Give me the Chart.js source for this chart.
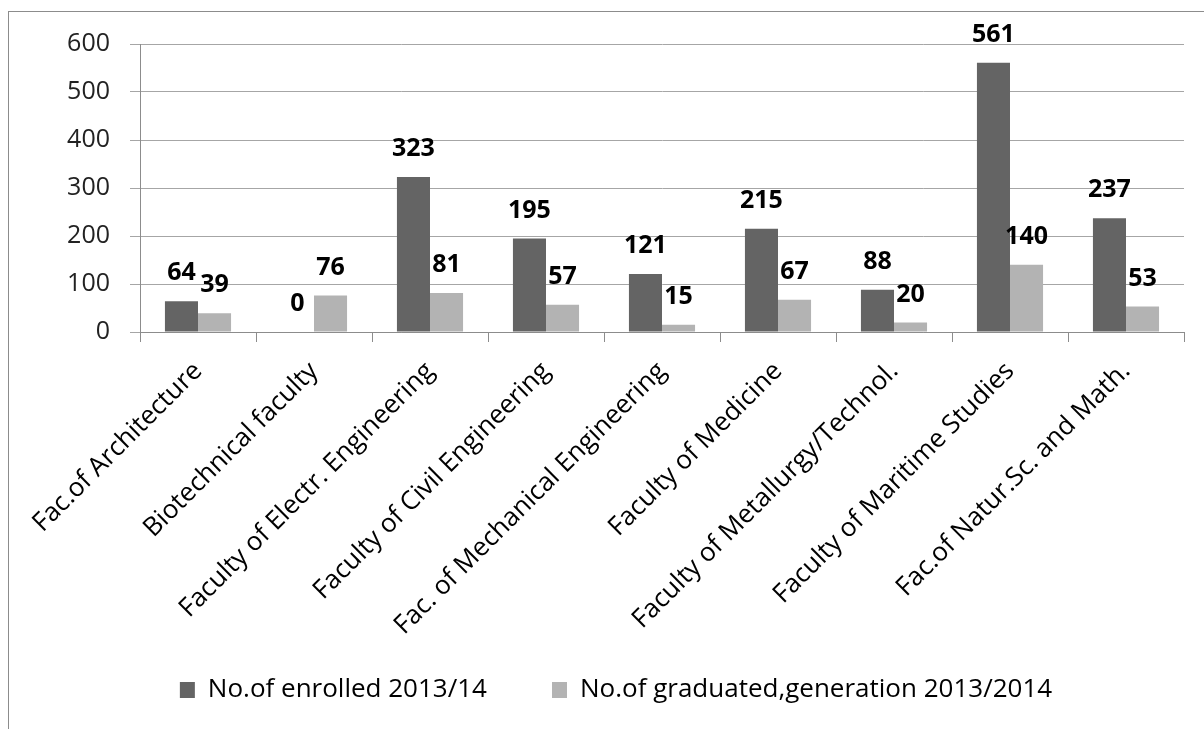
<!DOCTYPE html>
<html>
<head>
<meta charset="utf-8">
<script src="https://cdn.jsdelivr.net/npm/chart.js@4"></script>
<style>
  html, body { margin: 0; padding: 0; background: #fff; overflow: hidden; }
  #frame { position: absolute; left: 8px; top: 11px; width: 1400px; height: 900px; border: 1px solid #8c8c8c; }
  #wrap { position: absolute; left: 0; top: 0; width: 1204px; height: 729px; }
</style>
</head>
<body>
<div id="frame"></div>
<div id="wrap"><canvas id="myChart"></canvas></div>
<script>
var faculties = ['Fac.of Architecture', 'Biotechnical faculty', 'Faculty of Electr. Engineering',
    'Faculty of Civil Engineering', 'Fac. of Mechanical Engineering', 'Faculty of Medicine',
    'Faculty of Metallurgy/Technol.', 'Faculty of Maritime Studies', 'Fac.of Natur.Sc. and Math.'];
var enrolled = [64, 0, 323, 195, 121, 215, 88, 561, 237];
var graduated = [39, 76, 81, 57, 15, 67, 20, 140, 53];
var yTicks = [0, 100, 200, 300, 400, 500, 600];

var FONT = "'Open Sans', sans-serif";

// values written above each bar
var barLabels = {
    id: 'barLabels',
    afterDatasetsDraw: function (chart) {
        var ctx = chart.ctx;
        ctx.save();
        ctx.font = 'bold 25px ' + FONT;
        ctx.fillStyle = '#000';
        ctx.textAlign = 'center';
        ctx.textBaseline = 'middle';
        chart.data.datasets.forEach(function (ds, i) {
            chart.getDatasetMeta(i).data.forEach(function (bar, j) {
                ctx.fillText(ds.data[j], bar.x, bar.y - 28);
            });
        });
        ctx.restore();
    }
};

// nudge the legend (its padding also sets the gap between items)
var legendShift = {
    id: 'legendShift',
    afterLayout: function (chart) {
        var lg = chart.legend;
        lg.top -= 16;
        lg.bottom -= 16;
        lg.left += 24;
        lg.right += 24;
        chart.scales.x.bottom += 8;
    }
};

var ctx = document.getElementById('myChart').getContext('2d');
var myChart = new Chart(ctx, {
    type: 'bar',
    data: {
        labels: faculties,
        datasets: [{
            label: 'No.of enrolled 2013/14',
            data: enrolled,
            backgroundColor: '#646464',
            borderWidth: 0
        }, {
            label: 'No.of graduated,generation 2013/2014',
            data: graduated,
            backgroundColor: '#b3b3b3',
            borderWidth: 0
        }]
    },
    plugins: [barLabels, legendShift],
    options: {
        responsive: true,
        maintainAspectRatio: false,
        animation: false,
        layout: { padding: { top: 44, right: 20, left: 0, bottom: 0 } },
        datasets: { bar: { categoryPercentage: 0.57, barPercentage: 1 } },
        plugins: {
            tooltip: { enabled: false },
            legend: {
                position: 'bottom',
                labels: {
                    font: { family: FONT, size: 26 },
                    color: '#000',
                    boxWidth: 15,
                    boxHeight: 16,
                    padding: 65
                }
            }
        },
        scales: {
            x: {
                grid: { offset: true, drawOnChartArea: false, drawTicks: true, tickLength: 10, color: '#8c8c8c' },
                border: { color: '#8c8c8c' },
                ticks: {
                    font: { family: FONT, size: 26 },
                    color: '#000',
                    minRotation: 45,
                    maxRotation: 45,
                    padding: 14
                },
                afterFit: function (scale) { scale.height = 296; }
            },
            y: {
                min: 0,
                max: 600,
                afterBuildTicks: function (scale) {
                    scale.ticks = yTicks.map(function (v) { return { value: v }; });
                },
                grid: { color: '#a6a6a6', tickLength: 10 },
                border: { color: '#8c8c8c' },
                ticks: {
                    font: { family: FONT, size: 25 },
                    color: '#222',
                    padding: 20
                },
                afterFit: function (scale) { scale.width = 140; }
            }
        }
    }
});
</script>
</body>
</html>
